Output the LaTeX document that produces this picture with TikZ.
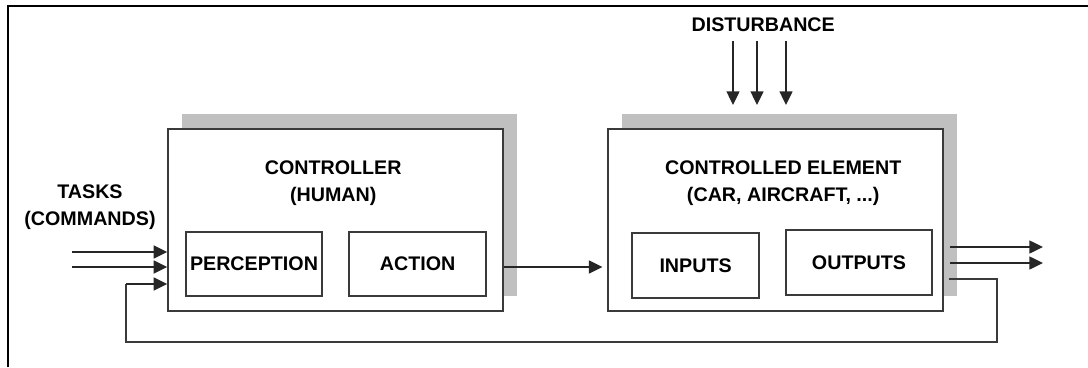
\documentclass[tikz,border=0pt]{standalone}
\usepackage{fontspec}
\setmainfont{Liberation Sans}
\definecolor{lazoLinea}{HTML}{3A3A3A}
\definecolor{lazoSombra}{HTML}{C0C0C0}
\usetikzlibrary{
	arrows.meta,
	positioning,
	calc,
	shadows
}
\tikzset{
	bloque/.style={
		draw=lazoLinea,
		line width=1.1pt,
		fill=white,
		minimum width=8.375cm,
		minimum height=4.55cm,
		drop shadow={shadow xshift=0.35cm, shadow yshift=0.37cm, fill=lazoSombra, opacity=1}
	},
	subbloque/.style={
		draw=lazoLinea,
		line width=1.1pt,
		minimum height=1.6cm,
		align=center,
		inner sep=0pt
	},
	titulo/.style={
		align=center,
		inner sep=0pt
	},
	flecha/.style={
		-{Triangle[length=3.4mm, width=3.2mm]},
		line width=1.3pt,
		black!85
	},
	linea/.style={
		line width=1.1pt,
		lazoLinea
	}
}

\begin{document}
\begin{tikzpicture}[font=\bfseries\fontsize{14}{19}\selectfont]
		\useasboundingbox (0,0) rectangle (27.2,9.175);
		\draw[line width=1.4pt] (0.2,0) -- (0.2,9.025) -- (27.2,9.025);
		% bloques principales
		\node[bloque] (ctrl) at (8.39,3.675) {};
		\node[bloque] (elem) at (19.39,3.675) {};
		\node[titulo] (ctrlTit) at (8.33,4.59) {CONTROLLER\\(HUMAN)};
		\node[titulo] (elemTit) at (19.58,4.59) {CONTROLLED ELEMENT\\(CAR, AIRCRAFT, ...)};
		\node[subbloque, minimum width=3.4cm] (perc) at (6.35,2.575) {PERCEPTION};
		\node[subbloque, minimum width=3.425cm] (acc) at (10.44,2.575) {ACTION};
		\node[subbloque, minimum width=3.175cm, minimum height=1.625cm] (ent) at (17.39,2.54) {INPUTS};
		\node[subbloque, minimum width=3.65cm, minimum height=1.625cm] (sal) at (21.475,2.61) {OUTPUTS};
		% textos externos
		\node[titulo] (tareas) at (2.25,3.99) {TASKS\\(COMMANDS)};
		\node[titulo] (pert) at (19.08,8.55) {DISTURBANCE};
		% entradas
		\coordinate (t1) at (1.8,2.875);
		\coordinate (t2) at (1.8,2.5);
		\draw[flecha] (t1) -- (t1 -| ctrl.west);
		\draw[flecha] (t2) -- (t2 -| ctrl.west);
		\draw[flecha] (acc.east -| ctrl.east) ++(0,-0.075) coordinate (m1) -- ([xshift=-1.2mm]m1 -| elem.west);
		% salidas
		\coordinate (s1) at (26.075,3.0);
		\coordinate (s2) at (26.075,2.6);
		\draw[flecha] (s1 -| elem.east) ++(0.15,0) -- (s1);
		\draw[flecha] (s2 -| elem.east) ++(0.15,0) -- (s2);
		% perturbaciones
		\foreach \px in {18.325,18.925,19.65}{
			\draw[flecha] (\px,8.15) -- (\px,6.55);
		}
		% realimentacion
		\coordinate (r0) at (23.725,2.2);
		\coordinate (r1) at (3.15,2.075);
		\draw[linea] (r0) -- (24.925,2.2) -- (24.925,0.625) -- (r1 |- 0,0.625) -- (r1);
		\draw[flecha] (r1) -- (r1 -| ctrl.west);
	\end{tikzpicture}
\end{document}
